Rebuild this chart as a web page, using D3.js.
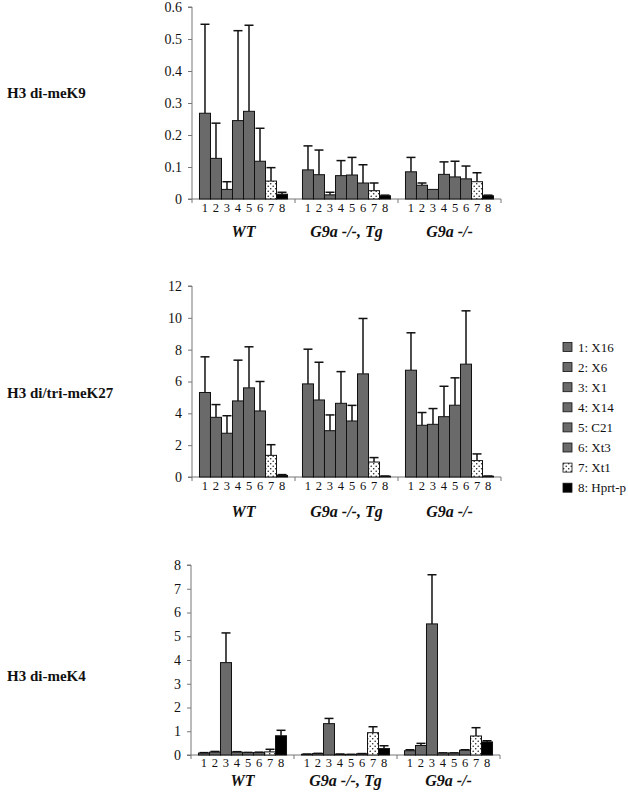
<!DOCTYPE html>
<html><head><meta charset="utf-8">
<script src="https://cdn.jsdelivr.net/npm/d3@7"></script>
<style>body{margin:0;background:#fff}svg{display:block}</style>
</head><body>
<svg id="c" width="628" height="795"></svg>
<script>
const groups = ["WT", "G9a -/-, Tg", "G9a -/-"];
const barIds = ["1","2","3","4","5","6","7","8"];
const legendLabels = ["1: X16","2: X6","3: X1","4: X14","5: C21","6: Xt3","7: Xt1","8: Hprt-p"];
const panelTitles = ["H3 di-meK9", "H3 di/tri-meK27", "H3 di-meK4"];

// values [group][bar], error tops [group][bar]
const k9Values = [
  [0.268,0.127,0.030,0.245,0.274,0.118,0.056,0.015],
  [0.091,0.076,0.013,0.073,0.075,0.050,0.026,0.010],
  [0.085,0.043,0.030,0.077,0.069,0.063,0.054,0.010]];
const k9Err = [
  [0.546,0.237,0.054,0.526,0.543,0.221,0.098,0.021],
  [0.166,0.153,0.021,0.120,0.130,0.107,0.050,0.012],
  [0.130,0.050,0.030,0.116,0.118,0.103,0.082,0.012]];
const k27Values = [
  [5.31,3.75,2.75,4.78,5.60,4.15,1.36,0.10],
  [5.85,4.84,2.91,4.63,3.52,6.48,0.94,0.05],
  [6.71,3.25,3.31,3.79,4.51,7.09,1.03,0.05]];
const k27Err = [
  [7.55,4.55,3.85,7.34,8.18,6.00,2.03,0.15],
  [8.03,7.21,3.90,6.62,4.50,9.96,1.22,0.06],
  [9.06,4.05,4.30,5.70,6.23,10.44,1.45,0.06]];
const k4Values = [
  [0.08,0.12,3.89,0.12,0.10,0.10,0.13,0.81],
  [0.03,0.06,1.32,0.03,0.02,0.05,0.94,0.27],
  [0.18,0.40,5.52,0.08,0.08,0.20,0.80,0.55]];
const k4Err = [
  [0.10,0.15,5.14,0.14,0.11,0.12,0.24,1.04],
  [0.04,0.07,1.54,0.04,0.03,0.06,1.19,0.39],
  [0.22,0.49,7.59,0.09,0.09,0.22,1.15,0.60]];
const k9Ticks = [0,0.1,0.2,0.3,0.4,0.5,0.6];
const k27Ticks = [0,2,4,6,8,10,12];
const k4Ticks = [0,1,2,3,4,5,6,7,8];

const svg = d3.select("#c");
const defs = svg.append("defs");
const pat = defs.append("pattern").attr("id","dots").attr("patternUnits","userSpaceOnUse")
  .attr("width",5).attr("height",5);
pat.append("rect").attr("width",5).attr("height",5).attr("fill","#fff");
pat.append("circle").attr("cx",1.2).attr("cy",1.2).attr("r",0.8).attr("fill","#222");
pat.append("circle").attr("cx",3.7).attr("cy",3.7).attr("r",0.8).attr("fill","#222");

const GRAY = "#6a6a6a";
function fillFor(i){ return i===6 ? "url(#dots)" : (i===7 ? "#000" : GRAY); }

const serif = "'Liberation Serif','Times New Roman',serif";

function panel(cfg){
  const {values, errs, ticks, yMax, x0, x1, yTop, yBot, title, titleY, numY, grpY, fmt} = cfg;
  const g = svg.append("g");
  const y = d3.scaleLinear().domain([0,yMax]).range([yBot,yTop]);
  const xg = d3.scaleBand().domain(groups).range([x0,x1]).paddingInner(0).paddingOuter(0);
  const xb = d3.scaleBand().domain(barIds).range([0,xg.bandwidth()]).paddingInner(0).paddingOuter(0.68);

  const ya = g.append("g").attr("transform",`translate(${x0},0)`)
    .call(d3.axisLeft(y).tickValues(ticks).tickSize(4).tickPadding(6).tickFormat(fmt));
  ya.select(".domain").attr("stroke","#777").attr("d",`M-4,${yTop}H0V${yBot}`);
  ya.selectAll(".tick line").attr("stroke","#777");
  ya.selectAll("text").attr("font-family",serif).attr("font-size",14).attr("fill","#111");

  g.append("line").attr("x1",x0-4).attr("x2",x1).attr("y1",yBot).attr("y2",yBot).attr("stroke","#777");
  [x0, ...groups.slice(1).map(d=>xg(d)), x1].forEach(px=>{
    g.append("line").attr("x1",px).attr("x2",px).attr("y1",yBot).attr("y2",yBot+4).attr("stroke","#777");
  });

  groups.forEach((gr,gi)=>{
    const gg = g.append("g").attr("transform",`translate(${xg(gr)},0)`);
    barIds.forEach((b,bi)=>{
      const v = values[gi][bi], e = errs[gi][bi];
      const bx = xb(b), bw = xb.bandwidth(), cx = bx + bw/2;
      if (e > v) {
        gg.append("line").attr("x1",cx).attr("x2",cx).attr("y1",y(v)).attr("y2",y(e))
          .attr("stroke","#111").attr("stroke-width",1.5);
        gg.append("line").attr("x1",cx-4.5).attr("x2",cx+4.5).attr("y1",y(e)).attr("y2",y(e))
          .attr("stroke","#111").attr("stroke-width",1.5);
      }
      gg.append("rect").attr("x",bx).attr("y",y(v)).attr("width",bw).attr("height",yBot-y(v))
        .attr("fill",fillFor(bi)).attr("stroke","#111").attr("stroke-width",1);
      gg.append("text").attr("x",cx).attr("y",numY).attr("text-anchor","middle")
        .attr("font-family",serif).attr("font-size",12.5).attr("fill","#111").text(b);
    });
    svg.append("text").attr("x",xg(gr)+xg.bandwidth()/2).attr("y",grpY).attr("text-anchor","middle")
      .attr("font-family",serif).attr("font-size",16).attr("font-weight","bold").attr("font-style","italic")
      .attr("fill","#111").text(gr);
  });

  svg.append("text").attr("x",7).attr("y",titleY).attr("font-family",serif).attr("font-size",15)
    .attr("font-weight","bold").attr("fill","#111").text(title);
}

panel({values:k9Values, errs:k9Err, ticks:k9Ticks, yMax:0.6, x0:192, x1:501, yTop:7, yBot:199,
  title:panelTitles[0], titleY:98, numY:212, grpY:237, fmt:d=>d===0?"0":d3.format(".1f")(d)});
panel({values:k27Values, errs:k27Err, ticks:k27Ticks, yMax:12, x0:192, x1:501, yTop:286, yBot:477,
  title:panelTitles[1], titleY:398, numY:490, grpY:517, fmt:d3.format("d")});
panel({values:k4Values, errs:k4Err, ticks:k4Ticks, yMax:8, x0:191, x1:500, yTop:565, yBot:755,
  title:panelTitles[2], titleY:681, numY:767, grpY:786, fmt:d3.format("d")});

const lg = svg.append("g");
legendLabels.forEach((t,i)=>{
  const cy = 347 + i*20.1;
  lg.append("rect").attr("x",563).attr("y",cy-4.5).attr("width",9).attr("height",9)
    .attr("fill",fillFor(i)).attr("stroke","#111").attr("stroke-width",0.8);
  lg.append("text").attr("x",578).attr("y",cy+4.5).attr("font-family",serif).attr("font-size",13)
    .attr("fill","#111").text(t);
});
</script>
</body></html>
